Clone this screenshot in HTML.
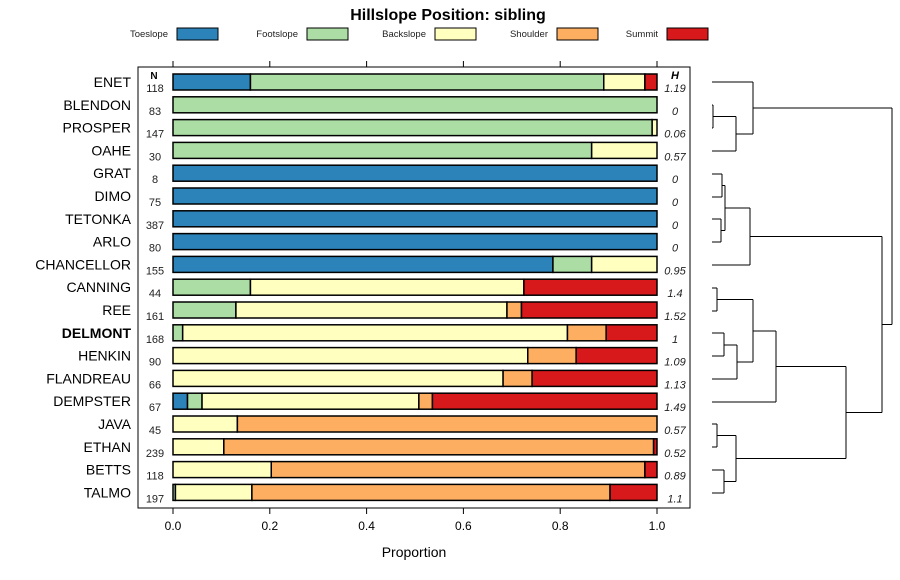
<!DOCTYPE html>
<html><head><meta charset="utf-8"><style>
body{margin:0;background:#fff;}
svg{display:block;font-family:"Liberation Sans",sans-serif;}
</style></head><body>
<svg id="chart" width="900" height="580" viewBox="0 0 900 580">
<text x="448" y="20" text-anchor="middle" font-size="16" font-weight="bold">Hillslope Position: sibling</text>
<g id="legend"></g>
<rect x="138" y="67" width="552" height="441" fill="none" stroke="#000" stroke-width="1"/>
<g id="axes"></g>
<g id="bars"></g>
<g id="dend" fill="none" stroke="#000" stroke-width="1"></g>
<text x="414" y="557" text-anchor="middle" font-size="14">Proportion</text>
<text x="154" y="79" text-anchor="middle" font-size="10" font-weight="bold">N</text>
<text x="675" y="79" text-anchor="middle" font-size="11" font-weight="bold" font-style="italic">H</text>
</svg>
<script>
const soils=["ENET","BLENDON","PROSPER","OAHE","GRAT","DIMO","TETONKA","ARLO","CHANCELLOR","CANNING","REE","DELMONT","HENKIN","FLANDREAU","DEMPSTER","JAVA","ETHAN","BETTS","TALMO"];
const nVals=[118,83,147,30,8,75,387,80,155,44,161,168,90,66,67,45,239,118,197];
const hVals=["1.19","0","0.06","0.57","0","0","0","0","0.95","1.4","1.52","1","1.09","1.13","1.49","0.57","0.52","0.89","1.1"];
const classes=["Toeslope","Footslope","Backslope","Shoulder","Summit"];
const colors=["#2b83ba","#abdda4","#ffffbf","#fdae61","#d7191c"];
const toeslope=[0.16,0,0,0,1,1,1,1,0.785,0,0,0,0,0,0.03,0,0,0,0];
const footslope=[0.73,1,0.99,0.865,0,0,0,0,0.08,0.16,0.13,0.02,0,0,0.03,0,0,0,0.005];
const backslope=[0.085,0,0.01,0.135,0,0,0,0,0.135,0.565,0.56,0.795,0.733,0.682,0.448,0.133,0.105,0.203,0.158];
const shoulder=[0,0,0,0,0,0,0,0,0,0,0.03,0.08,0.1,0.06,0.028,0.867,0.888,0.772,0.74];
const summit=[0.025,0,0,0,0,0,0,0,0,0.275,0.28,0.105,0.167,0.258,0.464,0,0.007,0.025,0.097];
const ticks=[0,0.2,0.4,0.6,0.8,1.0];
const tickLabels=["0.0","0.2","0.4","0.6","0.8","1.0"];
const series=[toeslope,footslope,backslope,shoulder,summit];
const NS="http://www.w3.org/2000/svg";
const X0=173,X1=657;
const xs=v=>X0+v*(X1-X0);
const ys=i=>82+i*22.8;
function mk(t,a,p){const e=document.createElementNS(NS,t);for(const k in a)e.setAttribute(k,a[k]);p.appendChild(e);return e;}
const axes=document.getElementById('axes');
ticks.forEach((t,i)=>{
 const l1=mk('line',{x1:xs(t),x2:xs(t),y1:508,y2:514,stroke:'#000'},axes);
 
 
 const l2=mk('line',{x1:xs(t),x2:xs(t),y1:61,y2:67,stroke:'#000'},axes);
 
 
 const tx=mk('text',{x:xs(t),y:530,'text-anchor':'middle','font-size':12},axes);
 tx.textContent=tickLabels[i];
 
 
});
const bars=document.getElementById('bars');
soils.forEach((s,i)=>{
 const y=ys(i);
 const lab=mk('text',{x:131,y:y+5,'text-anchor':'end','font-size':14,'font-weight':s==="DELMONT"?'bold':'normal'},bars);
 lab.textContent=s;
 
 
 const n=mk('text',{x:155,y:y+10,'text-anchor':'middle','font-size':11,fill:'#222'},bars);
 n.textContent=nVals[i];
 
 
 const h=mk('text',{x:675,y:y+10,'text-anchor':'middle','font-size':11,'font-style':'italic',fill:'#222'},bars);
 h.textContent=hVals[i];
 
 
 let c=0;
 series.forEach((arr,k)=>{
  const v=arr[i]; if(v<=0) return;
  const r=mk('rect',{x:xs(c),y:y-8,width:xs(c+v)-xs(c),height:16,fill:colors[k],stroke:'#000','stroke-width':1.5},bars);
  
  
  c+=v;
 });
});
const lg=document.getElementById('legend');
const lx=[170,300,428,550,660];
classes.forEach((c,k)=>{
 const t=mk('text',{x:lx[k]-2,y:37,'text-anchor':'end','font-size':9.5,fill:'#222'},lg);
 t.textContent=c;
 
 
 const r=mk('rect',{x:lx[k]+7,y:28,width:41,height:12,fill:colors[k],stroke:'#000'},lg);
 
 
});
const dend=document.getElementById('dend');
const segs=[
 [712,105,713,105],[712,128,713,128],[713,105,713,128],[713,116.5,736,116.5],[712,151,736,151],[736,116.5,736,151],
 [736,134,753,134],[712,82,753,82],[753,82,753,134],[753,108,892,108],
 [712,174,722,174],[712,197,722,197],[722,174,722,197],[712,219,721,219],[712,242,721,242],[721,219,721,242],
 [722,185.5,725,185.5],[721,230.5,725,230.5],[725,185.5,725,230.5],[725,208,750,208],[712,265,750,265],[750,208,750,265],[750,236.5,882,236.5],
 [712,288,717,288],[712,311,717,311],[717,288,717,311],[717,299.5,753,299.5],
 [712,333,724,333],[712,356,724,356],[724,333,724,356],[724,345,737,345],[712,379,737,379],[737,345,737,379],[737,362,753,362],
 [753,299.5,753,362],[753,331,776,331],[712,402,776,402],[776,331,776,402],[776,366.5,846,366.5],
 [712,424,717,424],[712,447,717,447],[717,424,717,447],[717,435.5,736,435.5],
 [712,470,724,470],[712,493,724,493],[724,470,724,493],[724,481.5,736,481.5],[736,435.5,736,481.5],[736,458.5,846,458.5],
 [846,366.5,846,458.5],[846,412.5,882,412.5],[882,236.5,882,412.5],[882,324.5,892,324.5],[892,108,892,324.5]
];
segs.forEach(s=>{
 const l=mk('line',{x1:s[0],y1:s[1],x2:s[2],y2:s[3]},dend);
 
 
});
</script>
</body></html>
